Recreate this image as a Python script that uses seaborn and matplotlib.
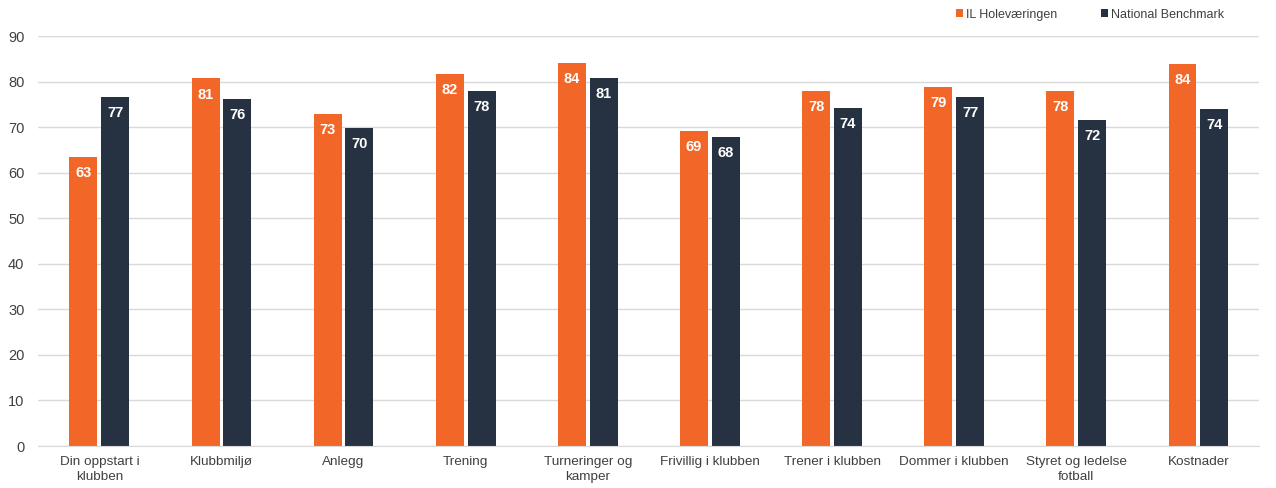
import pandas as pd
import matplotlib.pyplot as plt
import seaborn as sns
from matplotlib.patches import Patch

# Data
categories = [
    "Din oppstart i\nklubben", "Klubbmiljø", "Anlegg", "Trening",
    "Turneringer og\nkamper", "Frivillig i klubben", "Trener i klubben",
    "Dommer i klubben", "Styret og ledelse\nfotball", "Kostnader",
]
club_values = [63.4, 80.7, 72.9, 81.7, 84.1, 69.1, 77.9, 78.8, 77.9, 83.8]
bench_values = [76.6, 76.2, 69.8, 77.9, 80.8, 67.8, 74.2, 76.6, 71.6, 74.0]
series = ["IL Holeværingen", "National Benchmark"]
colors = ["#F26628", "#263242"]

df = pd.DataFrame({
    "Kategori": categories * 2,
    "Score": club_values + bench_values,
    "Serie": [series[0]] * len(categories) + [series[1]] * len(categories),
})

sns.set_style("white")
plt.rcParams["font.family"] = ["Liberation Sans", "DejaVu Sans"]

fig = plt.figure(figsize=(12.76, 4.88), dpi=100)
ax = fig.add_axes([0.030, 0.086, 0.957, 0.840])

sns.barplot(data=df, x="Kategori", y="Score", hue="Serie", palette=colors,
            saturation=1, width=0.52, gap=0.12, legend=False, ax=ax,
            errorbar=None, linewidth=0)

# value labels inside the bars
for cont in ax.containers:
    for bar in cont:
        h = bar.get_height()
        ax.text(bar.get_x() + bar.get_width() / 2, h - 2.0, f"{h:.0f}",
                ha="center", va="top", color="white", fontsize=10.5,
                fontweight="bold")

ax.set_ylim(0, 90)
ax.set_yticks(range(0, 91, 10))
ax.yaxis.grid(True, color="#D9D9D9", linewidth=1)
ax.set_axisbelow(True)
for s in ["top", "right", "left"]:
    ax.spines[s].set_visible(False)
ax.spines["bottom"].set_color("#D9D9D9")
ax.set_xlabel("")
ax.set_ylabel("")
ax.tick_params(axis="both", length=0, labelcolor="#404040")
ax.tick_params(axis="y", pad=10, labelsize=10.5)
ax.tick_params(axis="x", pad=7, labelsize=9.7)
for lbl in ax.get_xticklabels():
    lbl.set_linespacing(1.35)

handles = [Patch(facecolor=c, edgecolor="none") for c in colors]
fig.legend(handles, series, loc="upper right", bbox_to_anchor=(0.968, 1.005),
           ncol=2, frameon=False, fontsize=9, handlelength=0.6,
           handleheight=0.6, handletextpad=0.2, columnspacing=3.5,
           labelcolor="#404040")

fig.savefig("out.png", dpi=100)
